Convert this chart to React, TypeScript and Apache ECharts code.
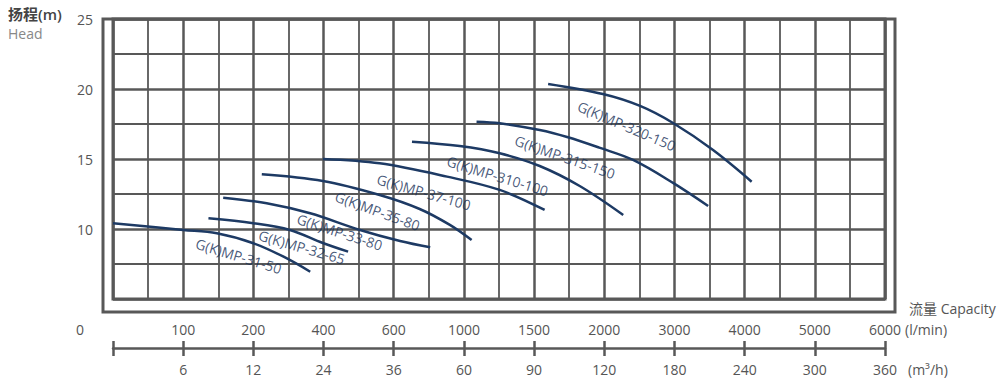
import React, { useEffect, useRef } from "react";
import * as echarts from "echarts";

// Flow axis tick labels (position index 0..11)
const flowLmin = ["", "100", "200", "400", "600", "1000", "1500", "2000", "3000", "4000", "5000", "6000"];
const flowM3h = ["", "6", "12", "24", "36", "60", "90", "120", "180", "240", "300", "360"];
const headTicks = [10, 15, 20, 25];

// Curves: x = position on the flow scale (index), y = head (m)
const mp31_50_x = [0.0, 1.0, 1.48, 2.0, 2.43, 2.81];
const mp31_50_y = [10.41, 9.93, 9.69, 8.98, 8.02, 6.95];
const mp32_65_x = [1.36, 2.0, 2.52, 2.99, 3.35];
const mp32_65_y = [10.76, 10.41, 9.93, 9.0, 8.38];
const mp33_80_x = [1.57, 2.19, 2.81, 3.52, 4.09, 4.52];
const mp33_80_y = [12.24, 11.84, 11.12, 9.93, 9.14, 8.69];
const mp35_80_x = [2.12, 2.99, 3.8, 4.37, 4.8, 5.11];
const mp35_80_y = [13.91, 13.43, 12.43, 11.43, 10.29, 9.21];
const mp37_100_x = [2.99, 3.8, 4.76, 5.51, 6.15];
const mp37_100_y = [15.0, 14.69, 13.74, 12.79, 11.36];
const mp310_100_x = [4.26, 4.94, 5.51, 6.08, 6.65, 7.27];
const mp310_100_y = [16.24, 15.93, 15.41, 14.5, 13.07, 11.0];
const mp315_150_x = [5.18, 5.51, 6.08, 6.47, 6.94, 7.41, 7.98, 8.48];
const mp315_150_y = [17.66, 17.55, 17.07, 16.57, 15.79, 14.93, 13.29, 11.64];
const mp320_150_x = [6.2, 6.98, 7.51, 7.98, 8.55, 9.1];
const mp320_150_y = [20.36, 19.64, 18.79, 17.57, 15.64, 13.38];

const curveNames = [
  "G(K)MP-31-50", "G(K)MP-32-65", "G(K)MP-33-80", "G(K)MP-35-80",
  "G(K)MP-37-100", "G(K)MP-310-100", "G(K)MP-315-150", "G(K)MP-320-150",
];
const curveXs = [mp31_50_x, mp32_65_x, mp33_80_x, mp35_80_x, mp37_100_x, mp310_100_x, mp315_150_x, mp320_150_x];
const curveYs = [mp31_50_y, mp32_65_y, mp33_80_y, mp35_80_y, mp37_100_y, mp310_100_y, mp315_150_y, mp320_150_y];

// Curve label anchors (x index, head) and angles
const labelX = [1.79, 2.69, 3.23, 3.77, 4.43, 5.48, 6.44, 7.32];
const labelY = [8.07, 8.71, 9.79, 11.29, 12.64, 13.79, 15.14, 17.36];
const labelRot = [-17, -16, -18, -20, -16, -17, -19, -23];

const GRID = "#585858";
const CURVE = "#1d3a64";
const LABEL = "#163058";
const FONT = "'Open Sans', 'Noto Sans CJK SC', sans-serif";

export default function App() {
  const ref = useRef<HTMLDivElement>(null);
  useEffect(() => {
    document.body.style.margin = "0";
    const chart = echarts.init(ref.current!, null, { renderer: "svg" });
    const lineSeries = curveNames.map((name, i) => ({
      type: "line",
      name,
      xAxisIndex: 0,
      yAxisIndex: 0,
      data: curveXs[i].map((x, j) => [x, curveYs[i][j]]),
      smooth: 0.35,
      showSymbol: false,
      lineStyle: { color: CURVE, width: 2.5 },
      z: 5,
    }));
    const labelSeries = {
      type: "scatter",
      xAxisIndex: 0,
      yAxisIndex: 0,
      symbolSize: 0,
      data: curveNames.map((name, i) => ({
        value: [labelX[i], labelY[i]],
        name,
        label: {
          show: true,
          position: "inside",
          formatter: name,
          rotate: labelRot[i],
          color: LABEL,
          fontSize: 14,
          fontWeight: 500,
          fontFamily: FONT,
          textBorderWidth: 0,
        },
      })),
      z: 6,
    };
    const xLabelStyle = { color: "#555", fontSize: 14, fontFamily: FONT };
    chart.setOption({
      animation: false,
      grid: [
        { left: 113, top: 19, width: 772, height: 280, show: true, borderColor: GRID, borderWidth: 3 },
        { left: 113, top: 341, width: 772, height: 7 },
      ],
      xAxis: [
        {
          type: "value", gridIndex: 0, min: 0, max: 11, interval: 1,
          axisLine: { show: false },
          axisTick: { show: false },
          minorTick: { show: false, splitNumber: 2 },
          splitLine: { show: true, lineStyle: { color: GRID, width: 2.5 } },
          minorSplitLine: { show: true, lineStyle: { color: GRID, width: 1.8 } },
          axisLabel: { ...xLabelStyle, margin: 23, formatter: (v: number) => flowLmin[Math.round(v)] ?? "" },
        },
        {
          type: "value", gridIndex: 1, min: 0, max: 11, interval: 1, position: "bottom",
          axisLine: { show: true, lineStyle: { color: GRID, width: 2.5 } },
          axisTick: { show: true, inside: true, length: 7, lineStyle: { color: GRID, width: 2.5 } },
          splitLine: { show: false },
          axisLabel: { ...xLabelStyle, margin: 14, formatter: (v: number) => flowM3h[Math.round(v)] ?? "" },
        },
        {
          type: "value", gridIndex: 1, min: 0, max: 11, interval: 1, position: "bottom",
          axisLine: { show: false },
          axisTick: { show: true, inside: false, length: 8, lineStyle: { color: GRID, width: 2.5 } },
          splitLine: { show: false },
          axisLabel: { show: false },
        },
      ],
      yAxis: [
        {
          type: "value", gridIndex: 0, min: 5, max: 25, interval: 5,
          axisLine: { show: false },
          axisTick: { show: false },
          minorTick: { show: false, splitNumber: 2 },
          splitLine: { show: true, lineStyle: { color: GRID, width: 2.5 } },
          minorSplitLine: { show: true, lineStyle: { color: GRID, width: 1.8 } },
          axisLabel: {
            color: "#555", fontSize: 14, fontFamily: FONT, margin: 20,
            formatter: (v: number) => (headTicks.includes(v) ? String(v) : ""),
          },
        },
        { type: "value", gridIndex: 1, show: false, min: 0, max: 1 },
      ],
      graphic: [
        { type: "rect", shape: { x: 103, y: 19, width: 792, height: 293 }, style: { fill: "none", stroke: GRID, lineWidth: 3 }, silent: true },
        { type: "text", x: 8, y: 6, style: { text: "扬程(m)", fill: "#444", font: `600 15px ${FONT}` } },
        { type: "text", x: 8, y: 26, style: { text: "Head", fill: "#888", font: `14px ${FONT}` } },
        { type: "text", x: 80, y: 329, style: { text: "0", fill: "#555", font: `14px ${FONT}`, align: "center", verticalAlign: "middle" } },
        { type: "text", x: 909, y: 308, style: { text: "流量 Capacity", fill: "#555", font: `14px ${FONT}`, verticalAlign: "middle" } },
        { type: "text", x: 905, y: 329, style: { text: "(l/min)", fill: "#555", font: `14px ${FONT}`, verticalAlign: "middle" } },
        { type: "text", x: 908, y: 369, style: { text: "(m³/h)", fill: "#555", font: `14px ${FONT}`, verticalAlign: "middle" } },
      ],
      series: [...lineSeries, labelSeries],
    });
    return () => chart.dispose();
  }, []);
  return <div ref={ref} style={{ position: "absolute", left: 0, top: 0, width: 1006, height: 384 }} />;
}
